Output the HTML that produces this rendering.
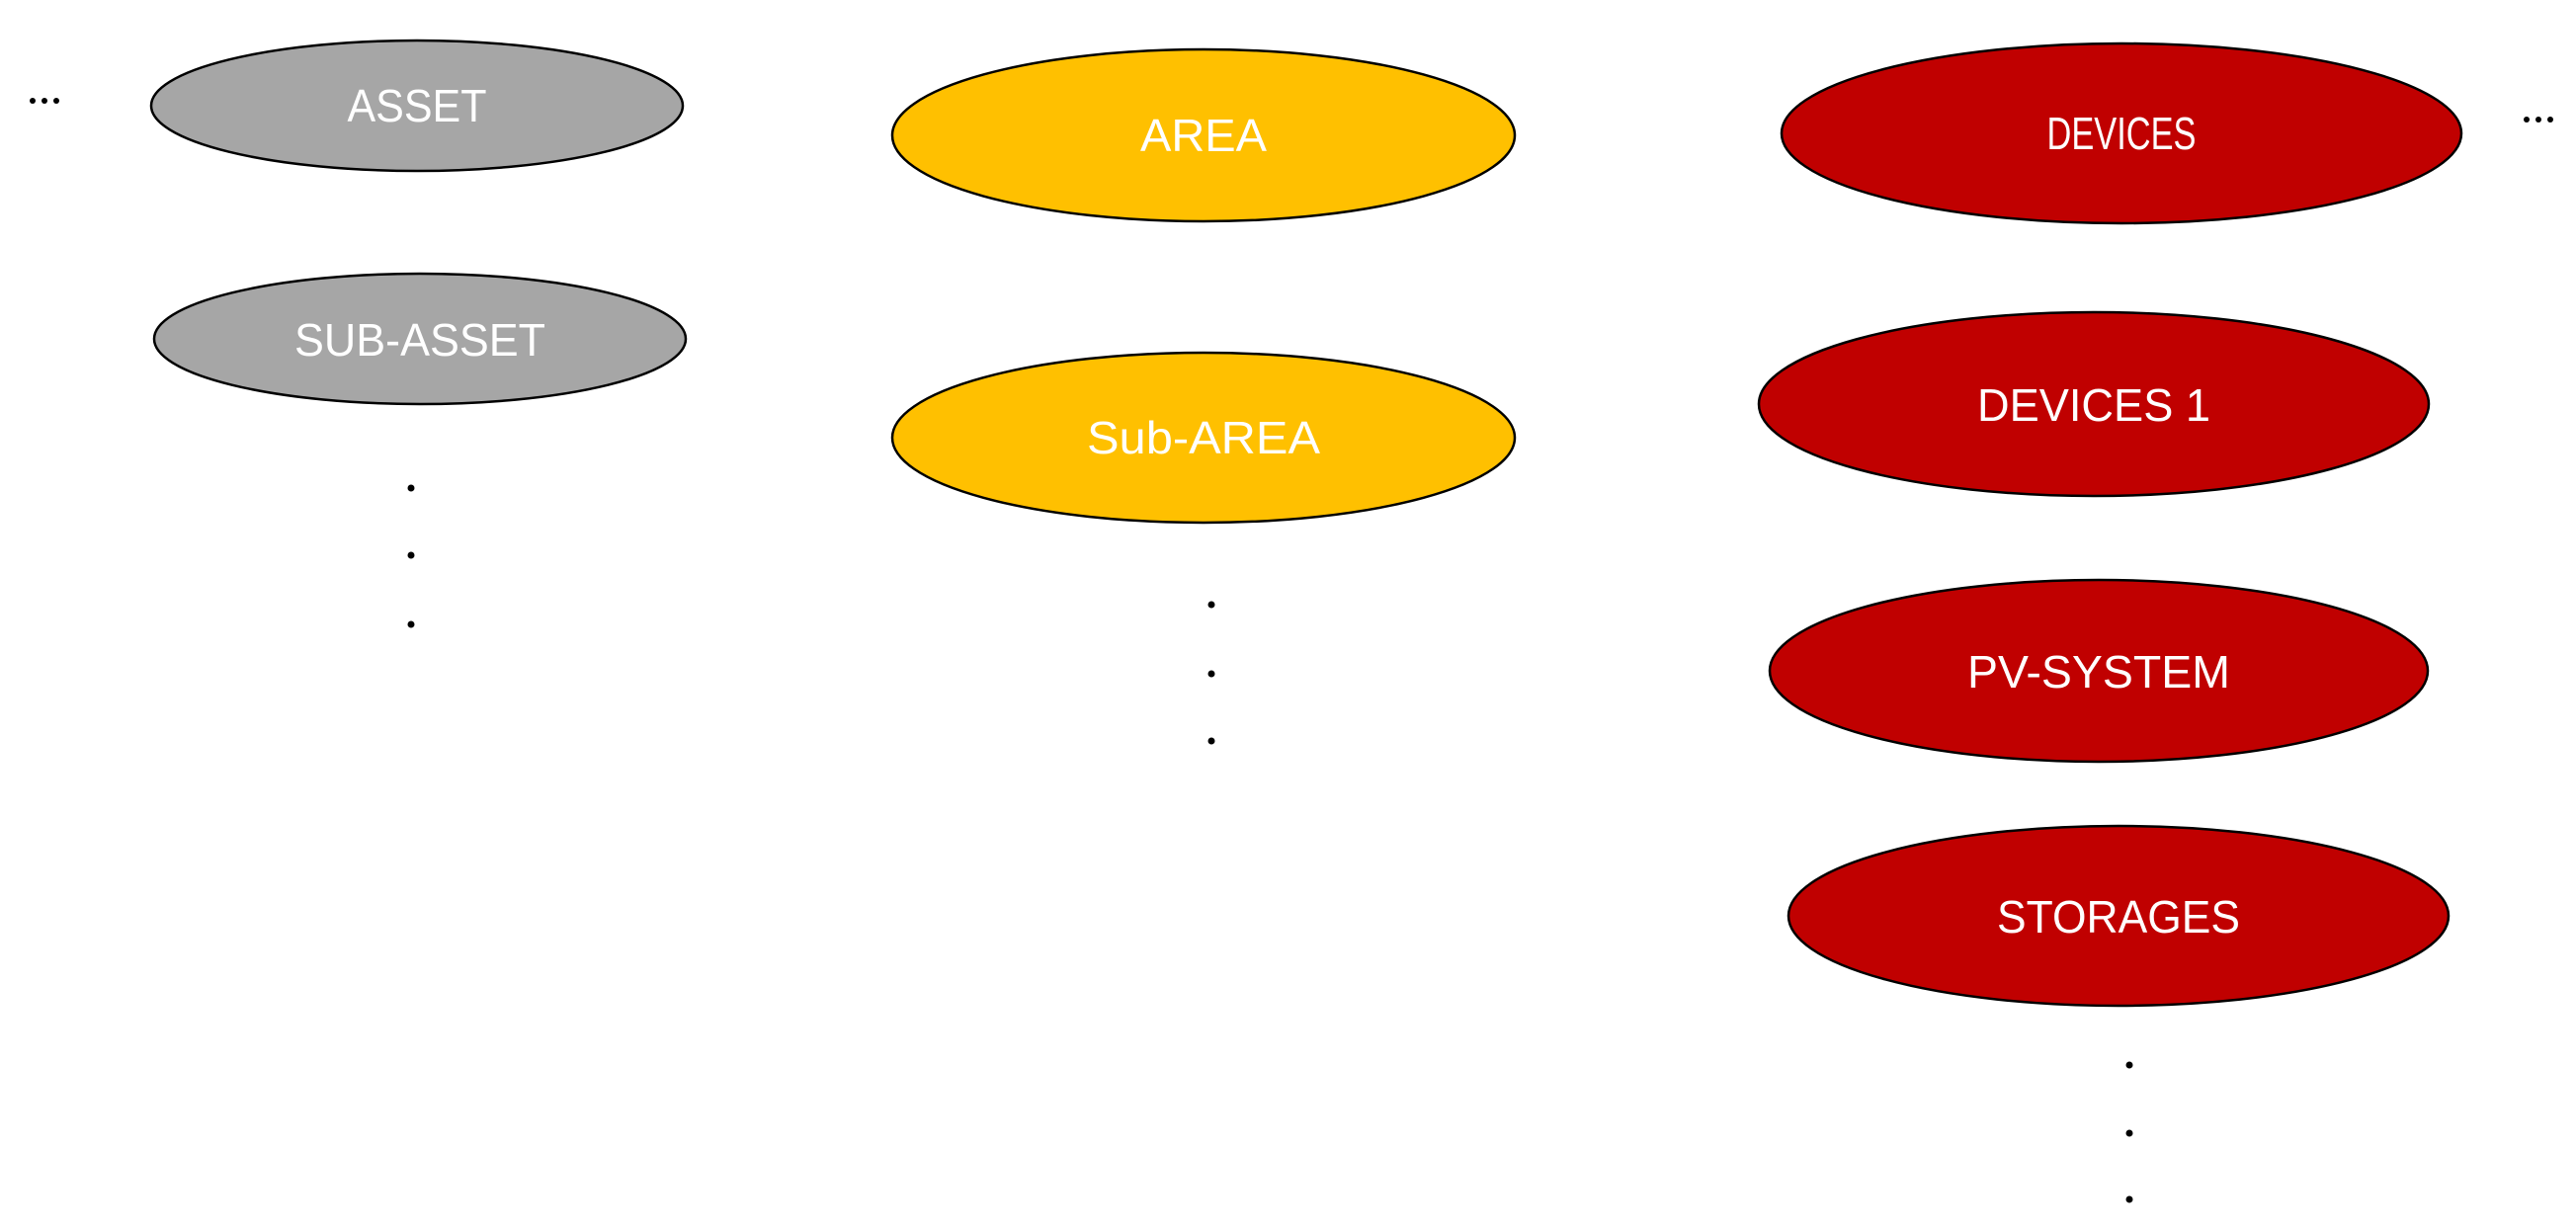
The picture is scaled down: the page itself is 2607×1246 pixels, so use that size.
<!DOCTYPE html>
<html><head><style>html,body{margin:0;padding:0;background:#fff}</style></head>
<body>
<svg width="2607" height="1241" viewBox="0 0 2607 1241" xmlns="http://www.w3.org/2000/svg" font-family="Liberation Sans, sans-serif">
<g stroke="#000" stroke-width="2.5">
<ellipse cx="422" cy="107" rx="269" ry="66" fill="#A6A6A6"/>
<ellipse cx="425" cy="343" rx="269" ry="66" fill="#A6A6A6"/>
<ellipse cx="1218" cy="137" rx="315" ry="87" fill="#FFC000"/>
<ellipse cx="1218" cy="443" rx="315" ry="86" fill="#FFC000"/>
<ellipse cx="2147" cy="135" rx="344" ry="91" fill="#C00000"/>
<ellipse cx="2119" cy="409" rx="339" ry="93" fill="#C00000"/>
<ellipse cx="2124" cy="679" rx="333" ry="92" fill="#C00000"/>
<ellipse cx="2144" cy="927" rx="334" ry="91" fill="#C00000"/>
</g>
<g fill="#fff" font-size="46" text-anchor="middle" lengthAdjust="spacingAndGlyphs">
<text x="422" y="123" textLength="141" lengthAdjust="spacingAndGlyphs">ASSET</text>
<text x="425" y="360" textLength="254" lengthAdjust="spacingAndGlyphs">SUB-ASSET</text>
<text x="1218" y="153" textLength="128" lengthAdjust="spacingAndGlyphs">AREA</text>
<text x="1218" y="459" textLength="236" lengthAdjust="spacingAndGlyphs">Sub-AREA</text>
<text x="2147" y="151" textLength="151" lengthAdjust="spacingAndGlyphs">DEVICES</text>
<text x="2119" y="426" textLength="236" lengthAdjust="spacingAndGlyphs">DEVICES 1</text>
<text x="2124" y="696" textLength="266" lengthAdjust="spacingAndGlyphs">PV-SYSTEM</text>
<text x="2144" y="944" textLength="246" lengthAdjust="spacingAndGlyphs">STORAGES</text>
</g>
<g fill="#000">
<circle cx="416" cy="494" r="3.5"/><circle cx="416" cy="562" r="3.5"/><circle cx="416" cy="632" r="3.5"/>
<circle cx="1226" cy="612" r="3.5"/><circle cx="1226" cy="682" r="3.5"/><circle cx="1226" cy="750" r="3.5"/>
<circle cx="2155" cy="1078" r="3.5"/><circle cx="2155" cy="1147" r="3.5"/><circle cx="2155" cy="1214" r="3.5"/>
<circle cx="33" cy="102" r="3"/><circle cx="45" cy="102" r="3"/><circle cx="57" cy="102" r="3"/>
<circle cx="2557" cy="121" r="3"/><circle cx="2569" cy="121" r="3"/><circle cx="2581" cy="121" r="3"/>
</g>
</svg>
</body></html>
